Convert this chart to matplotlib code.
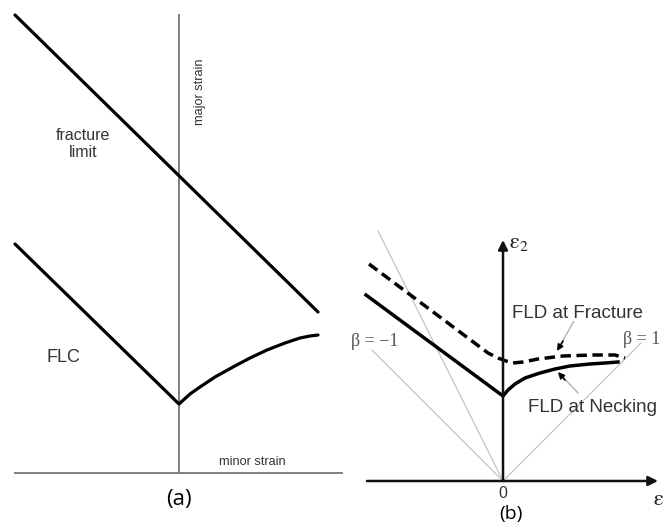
import numpy as np
import matplotlib
matplotlib.use('Agg')
import matplotlib.pyplot as plt

plt.rcParams['mathtext.fontset'] = 'stix'

# (a) schematic forming limit diagram, minor strain vs major strain
frac_x = [-1.64, 1.39]
frac_y = [4.58, 1.61]
flc_x = [-1.64, 0.0, 0.11, 0.21, 0.36, 0.54, 0.71, 0.88, 1.06, 1.21, 1.31, 1.39]
flc_y = [2.29, 0.69, 0.79, 0.86, 0.96, 1.06, 1.15, 1.23, 1.30, 1.35, 1.37, 1.38]

# (b) FLD at necking and at fracture, with strain path rays
neck_x = [-1.37, 0.0, 0.05, 0.12, 0.22, 0.37, 0.52, 0.67, 0.87, 1.02, 1.15]
neck_y = [1.86, 0.85, 0.91, 0.97, 1.03, 1.08, 1.12, 1.15, 1.17, 1.18, 1.19]
frac2_x = [-1.34, -0.15, -0.05, 0.03, 0.1, 0.2, 0.35, 0.6, 0.9, 1.12, 1.22]
frac2_y = [2.17, 1.28, 1.23, 1.20, 1.18, 1.19, 1.22, 1.25, 1.26, 1.26, 1.23]
ray_ends = [(-1.31, 1.31), (-1.25, 2.5), (1.38, 1.38)]

fig = plt.figure(figsize=(6.65, 5.32), dpi=100)

sans = 'Liberation Sans'
serif = 'Liberation Serif'

# ---- panel a
axa = fig.add_axes([0, 0, 1, 1])
axa.set_xlim(-1.79, 4.86)
axa.set_ylim(-0.59, 4.73)
axa.axis('off')
axa.plot([-1.64, 1.63], [0, 0], color='#808080', lw=1.4)
axa.plot([0, 0], [0, 4.58], color='#808080', lw=1.4)
axa.plot(frac_x, frac_y, color='black', lw=2.3, solid_capstyle='round')
axa.plot(flc_x, flc_y, color='black', lw=2.3, solid_capstyle='round',
         solid_joinstyle='round')
axa.text(-0.96, 3.29, 'fracture\nlimit', ha='center', va='center',
         fontsize=11.5, family=sans, color='#333333', linespacing=1.15)
axa.text(-1.16, 1.15, 'FLC', ha='center', va='center', fontsize=13,
         family=sans, color='#333333')
axa.text(0.21, 3.81, 'major strain', ha='center', va='center', rotation=90,
         fontsize=9.2, family=sans, color='#333333')
axa.text(0.73, 0.11, 'minor strain', ha='center', va='center',
         fontsize=9.2, family=sans, color='#333333')
axa.text(0, -0.27, '(a)', ha='center', va='center', fontsize=16,
         family='Open Sans', color='black')

# ---- panel b
axb = fig.add_axes([0, 0, 1, 1])
axb.patch.set_alpha(0)
axb.set_xlim(-5.03, 1.62)
axb.set_ylim(-0.51, 4.81)
axb.axis('off')
for ex, ey in ray_ends:
    axb.plot([0, ex], [0, ey], color='#c4c4c4', lw=0.9)
axb.annotate('', xy=(1.55, 0), xytext=(-1.36, 0),
             arrowprops=dict(arrowstyle='-|>', color='#111111', lw=1.8,
                             mutation_scale=14, shrinkA=0, shrinkB=0))
axb.annotate('', xy=(0, 2.41), xytext=(0, 0),
             arrowprops=dict(arrowstyle='-|>', color='#111111', lw=1.8,
                             mutation_scale=14, shrinkA=0, shrinkB=0))
axb.plot(neck_x, neck_y, color='black', lw=2.5, solid_joinstyle='round')
axb.plot(frac2_x, frac2_y, color='black', lw=2.5, dashes=(3, 1.6))

# leader lines
axb.annotate('', xy=(0.54, 1.30), xytext=(0.72, 1.62),
             arrowprops=dict(arrowstyle='-', color='#aaaaaa', lw=0.9))
axb.annotate('', xy=(0.54, 1.30), xytext=(0.60, 1.40),
             arrowprops=dict(arrowstyle='-|>', color='black', lw=1.2,
                             mutation_scale=9, shrinkA=0, shrinkB=0))
axb.annotate('', xy=(0.55, 1.09), xytext=(0.77, 0.86),
             arrowprops=dict(arrowstyle='-', color='#aaaaaa', lw=0.9))
axb.annotate('', xy=(0.55, 1.09), xytext=(0.62, 1.01),
             arrowprops=dict(arrowstyle='-|>', color='black', lw=1.2,
                             mutation_scale=9, shrinkA=0, shrinkB=0))

axb.text(0.74, 1.68, 'FLD at Fracture', ha='center', va='center',
         fontsize=13.5, family=sans, color='#333333')
axb.text(0.89, 0.73, 'FLD at Necking', ha='center', va='center',
         fontsize=13.5, family=sans, color='#333333')
axb.text(-1.28, 1.40, 'β = −1', ha='center', va='center', fontsize=13,
         family=serif, color='#555555')
axb.text(1.20, 1.41, 'β = 1', ha='left', va='center', fontsize=13,
         family=serif, color='#555555')
axb.text(0.06, 2.38, r'$\mathrm{ε}_2$', ha='left', va='center', fontsize=16,
         color='#222222')
axb.text(1.50, -0.19, r'$\mathrm{ε}_1$', ha='left', va='center', fontsize=16,
         color='#222222')
axb.text(0, -0.13, '0', ha='center', va='center', fontsize=11.5,
         family=sans, color='#333333')
axb.text(0.08, -0.33, '(b)', ha='center', va='center', fontsize=14,
         family='Open Sans', color='black')

fig.savefig('out.png', dpi=100)
